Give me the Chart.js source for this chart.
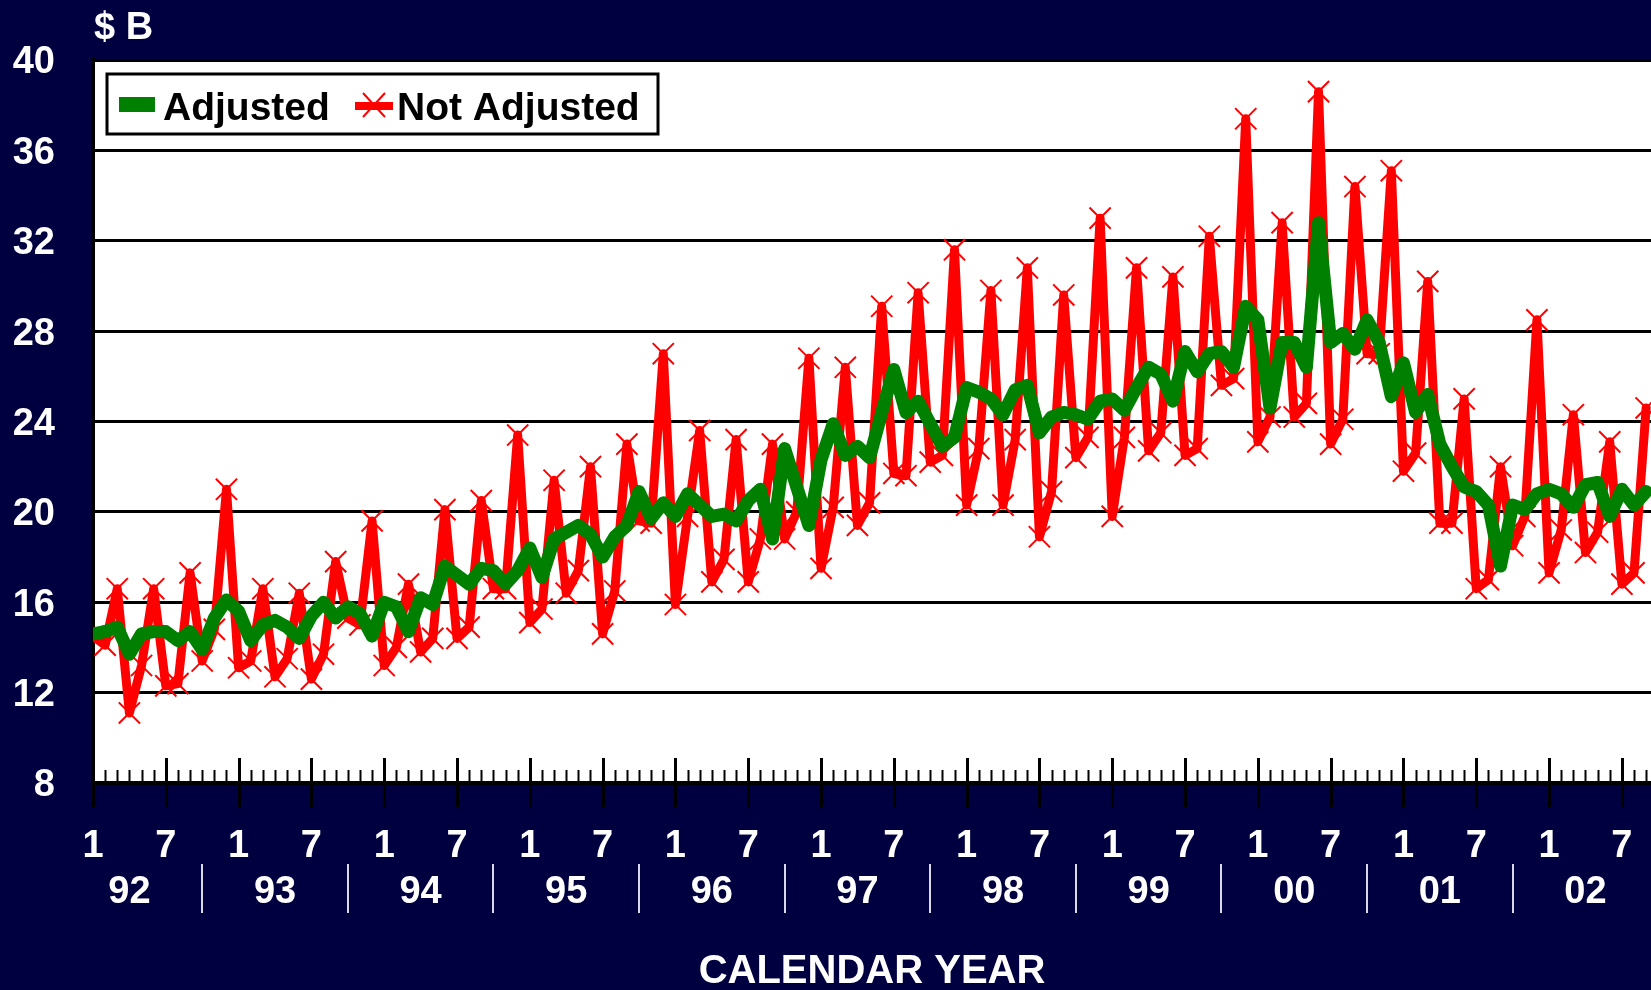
<!DOCTYPE html>
<html>
<head>
<meta charset="utf-8">
<script src="https://cdn.jsdelivr.net/npm/chart.js@4.4.1/dist/chart.umd.min.js"></script>
<style>
  html, body { margin: 0; padding: 0; background: #000040; }
  #grafico { display: block; }
</style>
</head>
<body>
<canvas id="grafico" width="1651" height="990"></canvas>
<script>
// meses desde ene 1992 (0) hasta sep 2002 (128)
const years = ['92', '93', '94', '95', '96', '97', '98', '99', '00', '01', '02'];
const monthLabels = ['1', '7'];
const yTicks = [8, 12, 16, 20, 24, 28, 32, 36, 40];

const adjusted = [
  14.6, 14.7, 14.9, 13.7, 14.6, 14.7, 14.7, 14.3, 14.7, 13.9, 15.3, 16.1,
  15.6, 14.3, 15.0, 15.2, 14.9, 14.4, 15.4, 16.0, 15.3, 15.8, 15.5, 14.5,
  16.0, 15.8, 14.7, 16.2, 15.9, 17.6, 17.2, 16.8, 17.5, 17.4, 16.8, 17.4,
  18.4, 17.1, 18.8, 19.1, 19.4, 19.0, 18.0, 18.9, 19.4, 20.9, 19.7, 20.4,
  19.8, 20.8, 20.3, 19.8, 19.9, 19.6, 20.5, 21.0, 18.8, 22.8, 21.1, 19.4,
  22.3, 23.9, 22.5, 22.9, 22.4, 24.4, 26.3, 24.4, 24.9, 23.9, 22.9, 23.3,
  25.5, 25.3, 25.0, 24.3, 25.4, 25.6, 23.5, 24.2, 24.4, 24.3, 24.1, 24.9,
  25.0, 24.5, 25.5, 26.4, 26.1, 24.9, 27.1, 26.2, 27.0, 27.1, 26.4, 29.1,
  28.5, 24.6, 27.5, 27.5, 26.4, 32.8, 27.5, 27.9, 27.2, 28.5, 27.5, 25.1,
  26.6, 24.4, 25.2, 23.0, 22.0, 21.1, 20.9, 20.3, 17.6, 20.3, 20.1, 20.8,
  21.0, 20.8, 20.2, 21.2, 21.3, 19.8, 21.0, 20.3, 20.9
];

const notAdjusted = [
  14.5, 14.1, 16.6, 11.1, 13.2, 16.6, 12.3, 12.4, 17.3, 13.4, 14.8, 21.0,
  13.1, 13.4, 16.6, 12.7, 13.5, 16.4, 12.6, 13.7, 17.8, 15.3, 15.0, 19.6,
  13.2, 14.0, 16.8, 13.8, 14.4, 20.1, 14.4, 14.9, 20.5, 16.6, 16.6, 23.4,
  15.1, 15.7, 21.4, 16.4, 17.4, 22.0, 14.6, 16.5, 23.0, 19.6, 19.5, 27.0,
  15.9, 19.8, 23.6, 16.9, 17.9, 23.2, 16.9, 18.8, 23.0, 18.8, 20.0, 26.8,
  17.5, 20.2, 26.4, 19.4, 20.4, 29.1, 21.7, 21.6, 29.7, 22.2, 22.5, 31.6,
  20.3, 22.8, 29.8, 20.3, 23.2, 30.8, 18.9, 20.9, 29.6, 22.4, 23.3, 33.0,
  19.8, 23.3, 30.8, 22.7, 23.5, 30.4, 22.5, 22.8, 32.2, 25.6, 25.9, 37.4,
  23.1, 24.2, 32.8, 24.2, 24.8, 38.6, 23.0, 24.1, 34.4, 27.0, 27.0, 35.1,
  21.8, 22.6, 30.2, 19.5, 19.5, 25.0, 16.6, 17.0, 22.0, 18.5, 19.8, 28.5,
  17.3, 19.2, 24.3, 18.2, 19.1, 23.1, 16.8, 17.3, 24.6
];

const fuente = '"Liberation Sans", Arial, sans-serif';
const azul = '#000040';
const xMax = 128.4;

// fondo azul y area blanca
const fondo = {
  id: 'fondo',
  beforeDraw(chart) {
    const c = chart.ctx;
    const a = chart.chartArea;
    c.save();
    c.fillStyle = azul;
    c.fillRect(0, 0, chart.width, chart.height);
    c.fillStyle = '#ffffff';
    c.fillRect(a.left, a.top, a.right - a.left, a.bottom - a.top);
    c.restore();
  }
};

// marcas de meses, años, leyenda y "$ B"
const extras = {
  id: 'extras',
  afterDraw(chart) {
    const c = chart.ctx;
    const x = chart.scales.x;
    const a = chart.chartArea;
    c.save();
    // marcas de cada mes
    c.strokeStyle = '#000000';
    for (let i = 0; i < notAdjusted.length; i++) {
      const px = Math.round(x.getPixelForValue(i)) + 0.5;
      c.beginPath();
      if (i % 6 === 0) {
        c.lineWidth = 3;
        c.moveTo(px, a.bottom - 25);
        c.lineTo(px, a.bottom + 24);
      } else {
        c.lineWidth = 2;
        c.moveTo(px, a.bottom - 13);
        c.lineTo(px, a.bottom);
      }
      c.stroke();
    }
    // años y separadores
    c.fillStyle = '#ffffff';
    c.font = 'bold 38px ' + fuente;
    c.textAlign = 'center';
    c.textBaseline = 'middle';
    years.forEach((y, k) => {
      c.fillText(y, x.getPixelForValue(12 * k + 3), 893);
      const sep = x.getPixelForValue(12 * k + 9);
      if (sep < chart.width - 5) {
        c.strokeStyle = '#d8d8e8';
        c.lineWidth = 2;
        c.beginPath();
        c.moveTo(Math.round(sep), 864);
        c.lineTo(Math.round(sep), 913);
        c.stroke();
      }
    });
    // "$ B"
    c.textAlign = 'left';
    c.textBaseline = 'alphabetic';
    c.fillText('$ B', 94, 39);
    // leyenda
    c.fillStyle = '#ffffff';
    c.fillRect(107, 74, 551, 60);
    c.strokeStyle = '#000000';
    c.lineWidth = 3;
    c.strokeRect(107, 74, 551, 60);
    c.fillStyle = '#008000';
    c.fillRect(119, 97, 36, 15);
    c.strokeStyle = '#ff0000';
    c.lineWidth = 8;
    c.beginPath();
    c.moveTo(355, 106);
    c.lineTo(393, 106);
    c.stroke();
    c.lineWidth = 2;
    c.beginPath();
    c.moveTo(363, 93); c.lineTo(385, 117);
    c.moveTo(385, 93); c.lineTo(363, 117);
    c.stroke();
    c.fillStyle = '#000000';
    c.font = 'bold 39px ' + fuente;
    c.fillText('Adjusted', 163, 120);
    c.fillText('Not Adjusted', 397, 120);
    c.restore();
  }
};

new Chart(document.getElementById('grafico'), {
  type: 'line',
  data: {
    datasets: [
      {
        label: 'Adjusted',
        data: adjusted.map((v, i) => ({ x: i, y: v })),
        borderColor: '#008000',
        borderWidth: 13,
        borderJoinStyle: 'round',
        borderCapStyle: 'round',
        pointRadius: 0,
        tension: 0
      },
      {
        label: 'Not Adjusted',
        data: notAdjusted.map((v, i) => ({ x: i, y: v })),
        borderColor: '#ff0000',
        backgroundColor: '#ff0000',
        borderWidth: 9,
        borderJoinStyle: 'round',
        borderCapStyle: 'round',
        pointStyle: 'crossRot',
        pointRadius: 15,
        pointBorderWidth: 2,
        pointBorderColor: '#ff0000',
        tension: 0
      }
    ]
  },
  options: {
    responsive: false,
    animation: false,
    devicePixelRatio: 1,
    layout: { autoPadding: false, padding: { top: 60, left: 0, right: 0, bottom: 0 } },
    plugins: {
      legend: { display: false },
      tooltip: { enabled: false }
    },
    scales: {
      x: {
        type: 'linear',
        min: 0,
        max: xMax,
        bounds: 'data',
        afterFit(scale) {
          scale.height = 207;
          scale.paddingLeft = 0;
          scale.paddingRight = 0;
        },
        afterBuildTicks(scale) {
          scale.ticks = years.flatMap((y, k) => [12 * k, 12 * k + 6])
            .filter(v => v <= 128)
            .map(v => ({ value: v }));
          scale.min = 0;
          scale.max = xMax;
        },
        ticks: {
          autoSkip: false,
          maxRotation: 0,
          padding: 37,
          color: '#ffffff',
          font: { family: fuente, size: 38, weight: 'bold', lineHeight: 1 },
          callback: (v) => monthLabels[(v % 12) / 6]
        },
        grid: { display: false },
        border: { display: true, color: '#000000', width: 4 },
        title: {
          display: true,
          text: 'CALENDAR YEAR',
          color: '#ffffff',
          padding: { top: 0, bottom: 0 },
          font: { family: fuente, size: 40, weight: 'bold', lineHeight: 0.9 }
        }
      },
      y: {
        min: 8,
        max: 40,
        afterFit(scale) {
          scale.width = 93;
          scale.paddingTop = 0;
          scale.paddingBottom = 0;
        },
        afterBuildTicks(scale) {
          scale.ticks = yTicks.map(v => ({ value: v }));
        },
        ticks: {
          padding: 38,
          labelOffset: 3,
          color: '#ffffff',
          font: { family: fuente, size: 38, weight: 'bold', lineHeight: 1 }
        },
        grid: { color: '#000000', lineWidth: 3, drawTicks: false },
        border: { display: true, color: '#000000', width: 4 }
      }
    }
  },
  plugins: [fondo, extras]
});
</script>
</body>
</html>
